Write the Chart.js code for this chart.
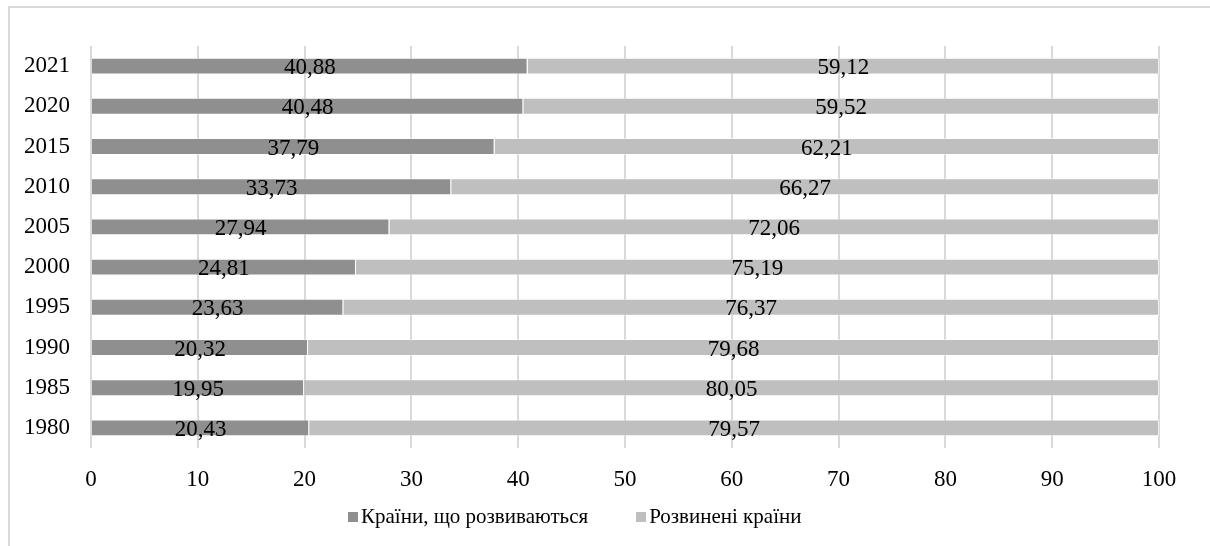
<!DOCTYPE html>
<html>
<head>
<meta charset="utf-8">
<script src="https://cdn.jsdelivr.net/npm/chart.js@4"></script>
<style>
    body { margin: 0; background: #fff; }
    #wrap { position: relative; width: 1210px; height: 546px; overflow: hidden; }
    #frame { position: absolute; left: 8px; top: 6px; width: 1300px; height: 600px;
             border-left: 2px solid #d9d9d9; border-top: 2px solid #d9d9d9; }
    canvas { position: absolute; left: 0; top: 0; }
    #legend { position: absolute; left: 348px; top: 504px; white-space: nowrap;
              font-family: "Liberation Serif", "Times New Roman", serif; font-size: 21px; color: #000; }
    #legend span.item { display: inline-block; }
    #legend span.box { display: inline-block; width: 10px; height: 10px; margin-right: 3px; vertical-align: 1px; }
</style>
</head>
<body>
<div id="wrap">
    <div id="frame"></div>
    <canvas id="barChart" width="1210" height="546"></canvas>
    <div id="legend"></div>
</div>
<script>
// Data
const years = ['1980', '1985', '1990', '1995', '2000', '2005', '2010', '2015', '2020', '2021'];
const developing = [20.43, 19.95, 20.32, 23.63, 24.81, 27.94, 33.73, 37.79, 40.48, 40.88];
const developed = [79.57, 80.05, 79.68, 76.37, 75.19, 72.06, 66.27, 62.21, 59.52, 59.12];
const xTicks = [0, 10, 20, 30, 40, 50, 60, 70, 80, 90, 100];
const seriesNames = ['Країни, що розвиваються', 'Розвинені країни'];
const seriesColors = ['#8f8f8f', '#bfbfbf'];

const FONT = '"Liberation Serif", "Times New Roman", serif';

// draws value labels in the middle of each bar segment
const valueLabels = {
    id: 'valueLabels',
    afterDatasetsDraw(chart) {
        const ctx = chart.ctx;
        ctx.save();
        ctx.font = '23px ' + FONT;
        ctx.fillStyle = '#000';
        ctx.textAlign = 'center';
        ctx.textBaseline = 'middle';
        chart.data.datasets.forEach((ds, i) => {
            chart.getDatasetMeta(i).data.forEach((bar, j) => {
                const p = bar.getProps(['x', 'y', 'base'], true);
                const cx = (p.x + p.base) / 2;
                ctx.fillText(ds.data[j].toFixed(2).replace('.', ','), cx, p.y + 2);
            });
        });
        ctx.restore();
    }
};

document.addEventListener('DOMContentLoaded', () => {
    const ctx = document.getElementById('barChart').getContext('2d');
    const chart = new Chart(ctx, {
        type: 'bar',
        data: {
            labels: years,
            datasets: [{
                label: seriesNames[0],
                data: developing,
                backgroundColor: seriesColors[0],
                borderColor: 'rgba(255,255,255,0.5)',
                borderWidth: 1,
                categoryPercentage: 1,
                barPercentage: 0.42
            }, {
                label: seriesNames[1],
                data: developed,
                backgroundColor: seriesColors[1],
                borderColor: 'rgba(255,255,255,0.5)',
                borderWidth: 1,
                categoryPercentage: 1,
                barPercentage: 0.42
            }]
        },
        options: {
            indexAxis: 'y',
            responsive: false,
            animation: false,
            layout: { padding: { top: 46, right: 51, left: 0, bottom: 48 } },
            plugins: {
                tooltip: { enabled: false },
                legend: { display: false }
            },
            scales: {
                x: {
                    stacked: true,
                    min: 0,
                    max: 100,
                    afterBuildTicks: (scale) => {
                        scale.ticks = xTicks.map(v => ({ value: v }));
                    },
                    afterFit: (scale) => { scale.height = 50; },
                    grid: { color: '#d9d9d9', lineWidth: 2, drawTicks: false },
                    border: { display: false },
                    ticks: {
                        font: { family: FONT, size: 23 },
                        color: '#000',
                        padding: 18
                    }
                },
                y: {
                    stacked: true,
                    reverse: true,
                    afterFit: (scale) => { scale.width = 91; },
                    grid: { display: false, drawTicks: false },
                    border: { display: false },
                    ticks: {
                        font: { family: FONT, size: 23 },
                        color: '#000',
                        padding: 21
                    }
                }
            }
        },
        plugins: [valueLabels]
    });

    // Legend
    const legend = document.getElementById('legend');
    chart.data.datasets.forEach((ds, i) => {
        const item = document.createElement('span');
        item.classList.add('item');
        if (i > 0) item.style.marginLeft = '48px';
        const box = document.createElement('span');
        box.classList.add('box');
        box.style.background = ds.backgroundColor;
        item.appendChild(box);
        item.appendChild(document.createTextNode(ds.label));
        legend.appendChild(item);
    });
});
</script>
</body>
</html>
